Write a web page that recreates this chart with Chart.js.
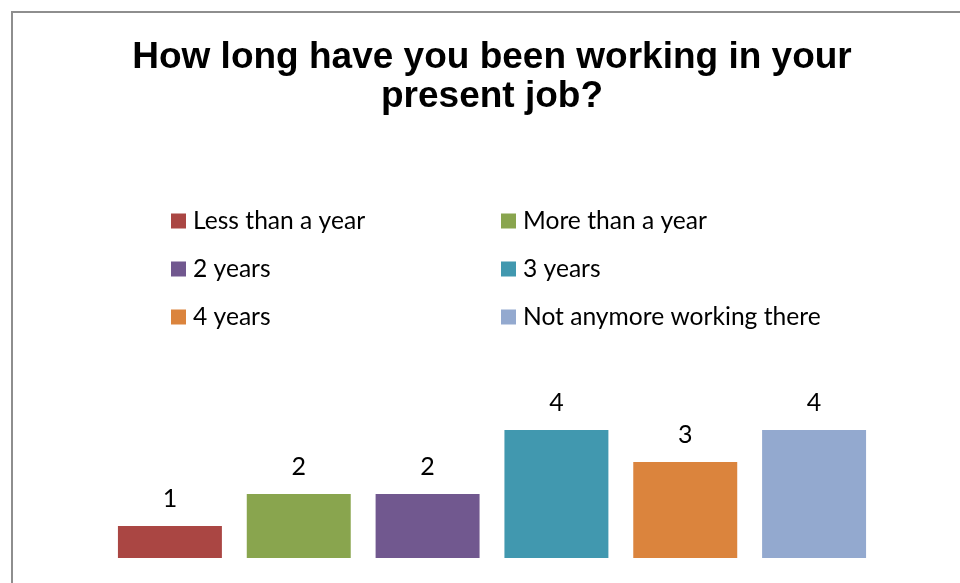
<!DOCTYPE html>
<html>
<head>
<meta charset="utf-8">
<script src="https://cdn.jsdelivr.net/npm/chart.js@4.4.1/dist/chart.umd.min.js"></script>
<style>
  body { margin: 0; background: #fff; }
  #wrap { position: relative; width: 960px; height: 583px; overflow: hidden; }
  #Chart { position: absolute; left: 0; top: 0; }
  #frame { position: absolute; left: 11px; top: 11px; width: 1000px; height: 1000px;
           border: 2px solid #8e8e8e; box-sizing: border-box; pointer-events: none; }
</style>
</head>
<body>
<div id="wrap">
  <canvas id="Chart" width="960" height="583"></canvas>
  <div id="frame"></div>
</div>
<script>
// data
const categories = ["Less than a year", "More than a year", "2 years", "3 years", "4 years", "Not anymore working there"];
const answers = [1, 2, 2, 4, 3, 4];
const titleLines = ["How long have you been working in your", "present job?"];

const barColors = ["#AA4643", "#89A54E", "#71588F", "#4198AF", "#DB843D", "#93A9CF"];
const textFont = "Lato, 'Open Sans', sans-serif";

// two-column legend like the original
const gridLegend = {
  id: "gridLegend",
  afterDraw(chart) {
    const ctx = chart.ctx;
    const labels = chart.data.labels;
    const colors = chart.data.datasets[0].backgroundColor;
    ctx.save();
    ctx.font = "24.6px " + textFont;
    ctx.textBaseline = "middle";
    ctx.fillStyle = "#000";
    labels.forEach((lab, i) => {
      let col = i % 2;
      let row = Math.floor(i / 2);
      let x = col === 0 ? 171 : 501;
      let y = 221 + row * 48;
      ctx.fillStyle = colors[i];
      ctx.fillRect(x, y - 7.5, 15, 15);
      ctx.fillStyle = "#000";
      ctx.fillText(lab, x + 22, y);
    });
    ctx.restore();
  },
};

// value labels above the bars
const valueLabels = {
  id: "valueLabels",
  afterDatasetsDraw(chart) {
    const ctx = chart.ctx;
    const meta = chart.getDatasetMeta(0);
    ctx.save();
    ctx.font = "25px " + textFont;
    ctx.textAlign = "center";
    ctx.textBaseline = "alphabetic";
    ctx.fillStyle = "#000";
    meta.data.forEach((bar, i) => {
      ctx.fillText(String(answers[i]), bar.x, bar.y - 19);
    });
    ctx.restore();
  },
};

let ctx = document.getElementById("Chart").getContext("2d");
let myChart = new Chart(ctx, {
  type: "bar",
  data: {
    labels: categories,
    datasets: [
      {
        label: "Answers",
        data: answers,
        backgroundColor: barColors,
        borderWidth: 0,
        barPercentage: 0.807,
        categoryPercentage: 1,
      },
    ],
  },
  options: {
    responsive: false,
    animation: false,
    events: [],
    layout: {
      padding: { left: 105.5, right: 81.5, top: 0, bottom: 25 },
    },
    scales: {
      x: { display: false },
      y: { display: false, min: 0, max: 5 },
    },
    plugins: {
      legend: { display: false },
      tooltip: { enabled: false },
      title: {
        display: true,
        text: titleLines,
        color: "#000",
        font: { family: "'Liberation Sans', Arial, sans-serif", size: 37, weight: "bold", lineHeight: 1.06 },
        padding: { top: 38, bottom: 281.6 },
      },
    },
  },
  plugins: [gridLegend, valueLabels],
});
</script>
</body>
</html>
